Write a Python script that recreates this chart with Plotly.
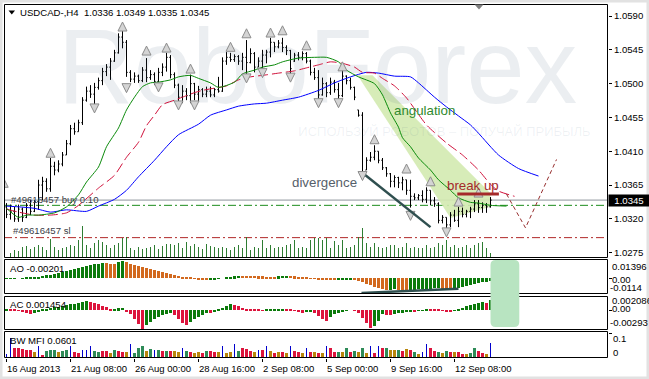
import plotly.graph_objects as go

FONT = "Liberation Sans, Arial, sans-serif"
W, H = 649, 379
ML, MR, MT, MB = 4, 41, 4, 21
PW, PH = W - ML - MR, H - MT - MB


def fx(px):
    return (px - ML) / PW


def fy(py):
    return (H - MB - py) / PH


# ---------------- data ----------------
header_text = "USDCAD-,H4\u00a0\u00a01.0336 1.0349 1.0335 1.0345"

open_ = [1.0336, 1.0326, 1.0330, 1.0320, 1.0333, 1.0322, 1.0338, 1.0330, 1.0343, 1.0365,
         1.0370, 1.0360, 1.0390, 1.0385, 1.0393, 1.0405, 1.0420, 1.0440, 1.0436, 1.0448,
         1.0478, 1.0490, 1.0486, 1.0495, 1.0504, 1.0516, 1.0522, 1.0530, 1.0541, 1.0562,
         1.0555, 1.0515, 1.0506, 1.0510, 1.0504, 1.0518, 1.0508, 1.0512, 1.0503, 1.0515,
         1.0522, 1.0535, 1.0512, 1.0498, 1.0482, 1.0490, 1.0484, 1.0500, 1.0486, 1.0492,
         1.0486, 1.0490, 1.0485, 1.0492, 1.0490, 1.0530, 1.0535, 1.0532, 1.0536, 1.0530,
         1.0535, 1.0528, 1.0540, 1.0522, 1.0530, 1.0538, 1.0542, 1.0555, 1.0549, 1.0554,
         1.0548, 1.0544, 1.0530, 1.0538, 1.0535, 1.0540, 1.0530, 1.0515, 1.0508, 1.0485,
         1.0500, 1.0488, 1.0502, 1.0492, 1.0484, 1.0510, 1.0504, 1.0495, 1.0465, 1.0458,
         1.0385, 1.0398, 1.0402, 1.0410, 1.0398, 1.0388, 1.0380, 1.0370, 1.0375, 1.0368,
         1.0372, 1.0358, 1.0350, 1.0348, 1.0351, 1.0346, 1.0358, 1.0344, 1.0340, 1.0318,
         1.0322, 1.0312, 1.0325, 1.0318, 1.0330, 1.0326, 1.0330, 1.0333, 1.0340, 1.0335,
         1.0338, 1.0336]
high = [1.0341, 1.0339, 1.0336, 1.0339, 1.0335, 1.0341, 1.0345, 1.0345, 1.0372, 1.0376,
        1.0374, 1.0401, 1.0396, 1.0398, 1.0409, 1.0425, 1.0445, 1.0448, 1.0452, 1.0482,
        1.0496, 1.0498, 1.0501, 1.0508, 1.0521, 1.0526, 1.0534, 1.0545, 1.0567, 1.0570,
        1.0558, 1.0518, 1.0515, 1.0512, 1.0522, 1.0534, 1.0518, 1.0515, 1.0521, 1.0527,
        1.0541, 1.0538, 1.0515, 1.0500, 1.0498, 1.0494, 1.0512, 1.0501, 1.0497, 1.0494,
        1.0496, 1.0496, 1.0494, 1.0509, 1.0535, 1.0542, 1.0541, 1.0539, 1.0538, 1.0541,
        1.0558, 1.0547, 1.0542, 1.0535, 1.0545, 1.0545, 1.0561, 1.0555, 1.0558, 1.0561,
        1.0551, 1.0545, 1.0541, 1.0542, 1.0543, 1.0542, 1.0532, 1.0521, 1.0518, 1.0508,
        1.0502, 1.0508, 1.0505, 1.0501, 1.0518, 1.0511, 1.0508, 1.0496, 1.0465, 1.0462,
        1.0402, 1.0409, 1.0418, 1.0410, 1.0401, 1.0389, 1.0381, 1.0378, 1.0376, 1.0376,
        1.0372, 1.0372, 1.0354, 1.0353, 1.0358, 1.0362, 1.0358, 1.0349, 1.0342, 1.0325,
        1.0322, 1.0329, 1.0332, 1.0336, 1.0335, 1.0332, 1.0336, 1.0345, 1.0345, 1.0342,
        1.0341, 1.0349]
low = [1.0321, 1.0319, 1.0316, 1.0316, 1.0316, 1.0321, 1.0325, 1.0329, 1.0332, 1.0345,
       1.0356, 1.0356, 1.0378, 1.0382, 1.0390, 1.0405, 1.0418, 1.0432, 1.0436, 1.0445,
       1.0476, 1.0481, 1.0472, 1.0492, 1.0498, 1.0510, 1.0505, 1.0529, 1.0540, 1.0547,
       1.0509, 1.0502, 1.0501, 1.0501, 1.0502, 1.0502, 1.0505, 1.0498, 1.0502, 1.0510,
       1.0516, 1.0507, 1.0494, 1.0476, 1.0474, 1.0478, 1.0474, 1.0478, 1.0476, 1.0482,
       1.0482, 1.0482, 1.0482, 1.0488, 1.0489, 1.0525, 1.0529, 1.0529, 1.0525, 1.0518,
       1.0509, 1.0527, 1.0515, 1.0522, 1.0521, 1.0527, 1.0535, 1.0542, 1.0547, 1.0542,
       1.0538, 1.0511, 1.0529, 1.0531, 1.0531, 1.0527, 1.0511, 1.0505, 1.0478, 1.0484,
       1.0482, 1.0485, 1.0488, 1.0478, 1.0482, 1.0499, 1.0492, 1.0478, 1.0456, 1.0376,
       1.0385, 1.0396, 1.0398, 1.0394, 1.0385, 1.0376, 1.0362, 1.0362, 1.0361, 1.0358,
       1.0352, 1.0335, 1.0345, 1.0345, 1.0342, 1.0341, 1.0338, 1.0336, 1.0314, 1.0314,
       1.0305, 1.0309, 1.0316, 1.0309, 1.0322, 1.0322, 1.0321, 1.0329, 1.0328, 1.0328,
       1.0328, 1.0335]
close = [1.0326, 1.0330, 1.0320, 1.0333, 1.0322, 1.0338, 1.0330, 1.0343, 1.0365, 1.0370,
         1.0360, 1.0390, 1.0385, 1.0393, 1.0405, 1.0420, 1.0440, 1.0436, 1.0448, 1.0478,
         1.0490, 1.0486, 1.0495, 1.0504, 1.0516, 1.0522, 1.0530, 1.0541, 1.0562, 1.0555,
         1.0515, 1.0506, 1.0510, 1.0504, 1.0518, 1.0508, 1.0512, 1.0503, 1.0515, 1.0522,
         1.0535, 1.0512, 1.0498, 1.0482, 1.0490, 1.0484, 1.0500, 1.0486, 1.0492, 1.0486,
         1.0490, 1.0485, 1.0492, 1.0490, 1.0530, 1.0535, 1.0532, 1.0536, 1.0530, 1.0535,
         1.0528, 1.0540, 1.0522, 1.0530, 1.0538, 1.0542, 1.0555, 1.0549, 1.0554, 1.0548,
         1.0544, 1.0520, 1.0538, 1.0535, 1.0540, 1.0530, 1.0515, 1.0508, 1.0485, 1.0500,
         1.0488, 1.0502, 1.0492, 1.0484, 1.0510, 1.0504, 1.0495, 1.0482, 1.0458, 1.0380,
         1.0398, 1.0402, 1.0410, 1.0398, 1.0388, 1.0380, 1.0370, 1.0375, 1.0368, 1.0372,
         1.0358, 1.0350, 1.0348, 1.0351, 1.0346, 1.0358, 1.0344, 1.0340, 1.0318, 1.0322,
         1.0312, 1.0325, 1.0318, 1.0330, 1.0326, 1.0330, 1.0333, 1.0340, 1.0335, 1.0338,
         1.0336, 1.0345]
volume = [300, 1500, 2400, 2100, 3300, 3600, 2700, 3300, 3900, 3300,
          2400, 5700, 3300, 2400, 3000, 3300, 3900, 3600, 5400, 9600,
          3900, 3000, 4500, 5400, 4800, 3900, 3000, 3900, 4500, 6000,
          6300, 3000, 2400, 3300, 2700, 3000, 3300, 3900, 2700, 3600,
          4200, 4200, 3900, 4500, 3000, 4800, 3600, 4200, 3300, 2700,
          4200, 3600, 3300, 3000, 3300, 3000, 2400, 3300, 3900, 3000,
          6300, 2400, 3300, 3000, 5400, 3000, 3900, 3000, 3300, 3300,
          3900, 4200, 5400, 3000, 3300, 3000, 5400, 6000, 6000, 5400,
          6000, 3000, 5100, 3900, 5400, 3000, 3300, 3900, 6300, 9000,
          4500, 3300, 4500, 3300, 3000, 3300, 3900, 3900, 3000, 3300,
          4500, 3000, 3300, 3000, 3000, 3900, 3000, 3300, 4500, 3900,
          5400, 3300, 3900, 3000, 3300, 3900, 3000, 3900, 4500, 4800,
          3000, 1500]

tick_bars = [0, 16, 32, 48, 64, 80, 96, 112]
tick_labels = ["16 Aug 2013", "21 Aug 08:00", "26 Aug 00:00", "28 Aug 16:00",
               "2 Sep 08:00", "5 Sep 00:00", "9 Sep 16:00", "12 Sep 08:00"]
price_ticks = [1.0590, 1.0545, 1.0500, 1.0455, 1.0410, 1.0365, 1.0320, 1.0275]

# Alligator lines (bar index, price), shifted forward past the last bar
lips_x = [0, 3, 5, 8, 12, 15, 18, 20, 23, 25, 28, 30, 32, 34, 36, 38, 41, 43, 46, 48, 51, 53, 57, 59, 62,
          64, 67, 69, 73, 77, 80, 83, 85, 88, 92, 94, 96, 98, 99, 101, 103, 106, 108, 111, 113, 116, 118, 121, 125]
lips_y = [1.0334, 1.0322, 1.0325, 1.0325, 1.0328, 1.0336, 1.0352, 1.0369, 1.0389, 1.0416, 1.0441, 1.0465,
          1.0482, 1.0496, 1.0501, 1.0502, 1.0505, 1.0509, 1.0511, 1.0507, 1.0501, 1.0495, 1.0502, 1.0513,
          1.0518, 1.0522, 1.0525, 1.0529, 1.0534, 1.0535, 1.0535, 1.0529, 1.0518, 1.0509, 1.0500, 1.0485,
          1.0461, 1.0442, 1.0428, 1.0416, 1.0401, 1.0385, 1.0372, 1.0358, 1.0348, 1.0342, 1.0341, 1.0338, 1.0337]
teeth_x = [0, 3, 7, 11, 15, 18, 23, 27, 30, 33, 35, 37, 39, 42, 44, 47, 49, 52, 55, 58, 61, 64, 68, 72,
           75, 78, 81, 84, 87, 89, 92, 94, 97, 100, 105, 110, 114, 118, 121, 123, 127]
teeth_y = [1.0333, 1.0329, 1.0325, 1.0325, 1.0328, 1.0338, 1.0361, 1.0378, 1.0402, 1.0422, 1.0444, 1.0458,
           1.0472, 1.0478, 1.0482, 1.0488, 1.0491, 1.0494, 1.0497, 1.0505, 1.0509, 1.0511, 1.0514, 1.0517,
           1.0521, 1.0525, 1.0529, 1.0527, 1.0522, 1.0515, 1.0514, 1.0507, 1.0497, 1.0481, 1.0445, 1.0421,
           1.0405, 1.0385, 1.0366, 1.0357, 1.0350]
jaw_x = [0, 3, 7, 11, 15, 20, 23, 27, 30, 33, 37, 40, 43, 48, 51, 55, 58, 62, 65, 69, 73, 78, 82, 86,
         90, 93, 97, 101, 103, 107, 110, 113, 116, 118, 123, 128, 133]
jaw_y = [1.0337, 1.0336, 1.0334, 1.0329, 1.0332, 1.0330, 1.0337, 1.0346, 1.0358, 1.0376, 1.0398, 1.0416,
         1.0432, 1.0446, 1.0458, 1.0465, 1.0470, 1.0473, 1.0474, 1.0478, 1.0482, 1.0491, 1.0501, 1.0509,
         1.0515, 1.0514, 1.0510, 1.0509, 1.0501, 1.0482, 1.0469, 1.0457, 1.0445, 1.0434, 1.0405, 1.0387, 1.0377]

frac_up_x = [-0.7, 11, 29, 35, 40, 46, 56, 60, 66, 69, 75, 84, 92, 100, 106, 113, 118]
frac_up_y = [1.0374, 1.0414, 1.0582, 1.0550, 1.0554, 1.0526, 1.0555, 1.0573, 1.0574, 1.0577, 1.0557,
             1.0529, 1.0432, 1.0393, 1.0376, 1.0349, 1.0361]
frac_dn_x = [22, 30, 38, 43, 47, 60, 64, 71, 78, 83, 89, 101, 110]
frac_dn_y = [1.0461, 1.0488, 1.0489, 1.0465, 1.0465, 1.0501, 1.0508, 1.0502, 1.0468, 1.0468, 1.0371,
             1.0318, 1.0296]

ao = [-0.00022, -0.00015, 0.00007, 0.00000, 0.00015, 0.00036, 0.00058, 0.00087, 0.00123, 0.00167,
      0.00218, 0.00268, 0.00312, 0.00363, 0.00435, 0.00508, 0.00580, 0.00653, 0.00725, 0.00834,
      0.00906, 0.00964, 0.01015, 0.01051, 0.01088, 0.01073, 0.01066, 0.01051, 0.01160, 0.01233,
      0.01146, 0.01051, 0.00979, 0.00906, 0.00834, 0.00761, 0.00674, 0.00580, 0.00508, 0.00435,
      0.00363, 0.00290, 0.00232, 0.00181, 0.00123, 0.00073, 0.00022, -0.00022, -0.00058, -0.00087,
      -0.00109, -0.00102, -0.00073, -0.00036, 0.00000, 0.00044, 0.00087, 0.00131, 0.00174, 0.00167,
      0.00160, 0.00152, 0.00145, 0.00138, 0.00131, 0.00123, 0.00116, 0.00109, 0.00131, 0.00160,
      0.00181, 0.00160, 0.00131, 0.00102, 0.00073, 0.00044, 0.00015, -0.00022, -0.00058, -0.00094,
      -0.00123, -0.00145, -0.00160, -0.00131, -0.00109, -0.00087, -0.00073, -0.00080, -0.00181, -0.00290,
      -0.00399, -0.00508, -0.00616, -0.00725, -0.00798, -0.00856, -0.00834, -0.00812, -0.00827, -0.00848,
      -0.00870, -0.00841, -0.00819, -0.00798, -0.00783, -0.00769, -0.00754, -0.00740, -0.00725, -0.00747,
      -0.00769, -0.00783, -0.00740, -0.00689, -0.00638, -0.00580, -0.00508, -0.00435, -0.00363, -0.00290,
      -0.00239, -0.00201]
ac = [0.000103, 0.000074, 0.000044, -0.000103, -0.000251, -0.000443, -0.000590, -0.000369, -0.000148, 0.000074,
      0.000221, 0.000369, 0.000443, 0.000516, 0.000634, 0.000738, 0.000841, 0.000929, 0.001033, 0.001180,
      0.001328, 0.001254, 0.001107, 0.000885, 0.000664, 0.000443, 0.000221, 0.000236, 0.000266, 0.000295,
      -0.000148, -0.000590, -0.001328, -0.002066, -0.002803, -0.002213, -0.001771, -0.001328, -0.000959, -0.000664,
      -0.000516, -0.000443, -0.000664, -0.001328, -0.001918, -0.002213, -0.001771, -0.001328, -0.000959, -0.000664,
      -0.000369, -0.000443, -0.000221, 0.000074, 0.000369, 0.000664, 0.000885, 0.000811, 0.000590, 0.000369,
      0.000192, 0.000074, 0.000044, 0.000030, 0.000015, 0.000074, 0.000118, 0.000177, 0.000221, 0.000236,
      0.000192, 0.000030, -0.000118, -0.000221, -0.000369, -0.000266, -0.000221, -0.000443, -0.000885, -0.001328,
      -0.001623, -0.001033, -0.000590, -0.000369, -0.000148, -0.000074, 0.000000, -0.000044, -0.000443, -0.001180,
      -0.001918, -0.002656, -0.002316, -0.001623, -0.000590, -0.000664, -0.000738, -0.000590, -0.000472, -0.000369,
      -0.000266, -0.000177, -0.000221, -0.000118, -0.000030, 0.000221, 0.000177, 0.000148, 0.000103, -0.000044,
      -0.000148, -0.000192, -0.000074, 0.000148, 0.000369, 0.000590, 0.000738, 0.000885, 0.001033, 0.001180,
      0.001033, 0.001454]
mfi = [0.0163, 0.0816, 0.0408, 0.0408, 0.0367, 0.0327, 0.0327, 0.0245, 0.0490, 0.0122,
       0.0286, 0.0327, 0.0327, 0.0245, 0.0286, 0.0327, 0.0490, 0.0245, 0.0204, 0.0327,
       0.0327, 0.0490, 0.0286, 0.0245, 0.0286, 0.0286, 0.0204, 0.0327, 0.0286, 0.0245,
       0.0245, 0.0571, 0.0204, 0.0408, 0.0490, 0.0286, 0.0367, 0.0327, 0.0327, 0.0286,
       0.0286, 0.0286, 0.0286, 0.0245, 0.0408, 0.0286, 0.0245, 0.0204, 0.0245, 0.0204,
       0.0286, 0.0286, 0.0245, 0.0245, 0.0490, 0.0204, 0.0245, 0.0571, 0.0286, 0.0408,
       0.0367, 0.0286, 0.0245, 0.0327, 0.0327, 0.0490, 0.0286, 0.0204, 0.0245, 0.0245,
       0.0204, 0.0490, 0.0286, 0.0245, 0.0204, 0.0408, 0.0245, 0.0245, 0.0204, 0.0204,
       0.0490, 0.0408, 0.0245, 0.0245, 0.0245, 0.0408, 0.0245, 0.0286, 0.0245, 0.0408,
       0.0204, 0.0490, 0.0204, 0.0490, 0.0408, 0.0408, 0.0327, 0.0327, 0.0327, 0.0286,
       0.0367, 0.0327, 0.0245, 0.0163, 0.0245, 0.0571, 0.0408, 0.0286, 0.0245, 0.0204,
       0.0286, 0.0245, 0.0245, 0.0245, 0.0163, 0.0163, 0.0204, 0.0408, 0.0286, 0.0204,
       0.0163, 0.0601]
# G = green (MFI up, vol up), F = fade, K = fake, S = squat
mfi_kind = list("KKSSSSSFKS" "GGGFGGKSSK" "KKGGSSFGSS" "FKGGGFGKGS" "GSFFKGSFFS"
                "GSSFKFFKGS" "SSFKSKFSFS" "FKSSFKSFSF" "KSSGFGSGFG" "FKSKSGFFGS"
                "FSGFKKSSGF" "GSFSSFGGSS" "FK")

bid_price = 1.0345
order_price = 1.0338
sl_price = 1.0295
angulation_x = [87.75, 91.5, 121.0, 121.0, 111.0]
angulation_y = [1.0511, 1.0511, 1.0354, 1.0336, 1.0321]
div_price_x = [89.75, 106.0]
div_price_y = [1.0378, 1.0309]
breakup_x = [112.7, 123.1]
breakup_y = 1.0353
forecast_x = [125.0, 129.75, 137.5]
forecast_y = [1.0353, 1.0308, 1.0399]
div_ao_x = [88.75, 113.0]
div_ao_y = [-0.01065, -0.00754]

# ---------------- figure ----------------
n = len(close)
bars = list(range(n))

ao_col = ['#0b7a0b' if i == 0 or ao[i] > ao[i - 1] else '#d2691e' for i in range(n)]
ac_col = ['#0b7a0b' if i == 0 or ac[i] > ac[i - 1] else '#dc143c' for i in range(n)]
MFI_COLORS = {'G': '#2e8b57', 'F': '#b8860b', 'K': '#0000cd', 'S': '#dc143c'}
mfi_col = [MFI_COLORS[k] for k in mfi_kind]
mfi_w = [0.25 if k == 'K' else 0.75 for k in mfi_kind]

fig = go.Figure()

fig.add_trace(go.Scatter(x=[77.75], y=[1.05095], mode='text', text=['RoboForex'],
                         textfont=dict(family=FONT, size=105, color='rgba(70,100,130,0.11)'),
                         hoverinfo='skip', showlegend=False))
fig.add_trace(go.Scatter(x=[109.5], y=[1.04343], mode='text',
                         text=['ИСПОЛЬЗУЙ РОБОТОВ – ПОЛУЧАЙ ПРИБЫЛЬ'],
                         textfont=dict(family=FONT, size=13, color='rgba(70,100,130,0.09)'),
                         hoverinfo='skip', showlegend=False))

fig.add_trace(go.Scatter(x=jaw_x, y=jaw_y, mode='lines', line=dict(color='#0000ff', width=1, shape='spline', smoothing=0.6),
                         hoverinfo='skip', showlegend=False))
fig.add_trace(go.Scatter(x=teeth_x, y=teeth_y, mode='lines',
                         line=dict(color='#d0103a', width=1, shape='spline', smoothing=0.6, dash='10px,4px'),
                         hoverinfo='skip', showlegend=False))
fig.add_trace(go.Scatter(x=lips_x, y=lips_y, mode='lines', line=dict(color='#0a8a0a', width=1, shape='spline', smoothing=0.6),
                         hoverinfo='skip', showlegend=False))

fig.add_trace(go.Ohlc(x=bars, open=open_, high=high, low=low, close=close, tickwidth=0.3,
                      increasing=dict(line=dict(color='black', width=1)),
                      decreasing=dict(line=dict(color='black', width=1)),
                      hoverinfo='skip', showlegend=False))

fig.add_trace(go.Scatter(x=frac_up_x, y=frac_up_y, mode='markers',
                         marker=dict(symbol='arrow-up', size=9, color='#d4d4d4', line=dict(color='#8c8c8c', width=1)),
                         hoverinfo='skip', showlegend=False))
fig.add_trace(go.Scatter(x=frac_dn_x, y=frac_dn_y, mode='markers',
                         marker=dict(symbol='arrow-down', size=9, color='#d4d4d4', line=dict(color='#8c8c8c', width=1)),
                         hoverinfo='skip', showlegend=False))

fig.add_trace(go.Scatter(x=forecast_x, y=forecast_y, mode='lines',
                         line=dict(color='#962d2d', width=1, dash='4px,3px'),
                         hoverinfo='skip', showlegend=False))

fig.add_trace(go.Bar(x=bars, y=volume, width=0.25, marker=dict(color='#2e7d32', line=dict(width=0)),
                     xaxis='x', yaxis='y5', hoverinfo='skip', showlegend=False))

fig.add_trace(go.Bar(x=bars, y=ao, width=0.75, marker=dict(color=ao_col, line=dict(width=0)),
                     xaxis='x', yaxis='y2', hoverinfo='skip', showlegend=False))
fig.add_trace(go.Scatter(x=div_ao_x, y=div_ao_y, mode='lines', line=dict(color='#2f4f4f', width=2.5),
                         xaxis='x', yaxis='y2', hoverinfo='skip', showlegend=False))
fig.add_trace(go.Bar(x=bars, y=ac, width=0.75, marker=dict(color=ac_col, line=dict(width=0)),
                     xaxis='x', yaxis='y3', hoverinfo='skip', showlegend=False))
fig.add_trace(go.Bar(x=bars, y=mfi, width=mfi_w, marker=dict(color=mfi_col, line=dict(width=0)),
                     xaxis='x', yaxis='y4', hoverinfo='skip', showlegend=False))

# ---------------- shapes ----------------
shapes = []
ang_path = 'M ' + ' L '.join(f'{x},{y}' for x, y in zip(angulation_x, angulation_y)) + ' Z'
shapes.append(dict(type='path', path=ang_path, xref='x', yref='y', fillcolor='#d3eab0',
                   line=dict(width=0), layer='below', opacity=0.9))
shapes.append(dict(type='line', xref='paper', yref='y', x0=0, x1=1, y0=bid_price, y1=bid_price,
                   line=dict(color='#8c939b', width=1), layer='below'))
shapes.append(dict(type='line', xref='paper', yref='y', x0=0, x1=1, y0=order_price, y1=order_price,
                   line=dict(color='#1c8c1c', width=1, dash='8px,3px,2px,3px'), layer='below'))
shapes.append(dict(type='line', xref='paper', yref='y', x0=0, x1=1, y0=sl_price, y1=sl_price,
                   line=dict(color='#b02828', width=1, dash='8px,3px,2px,3px'), layer='below'))
shapes.append(dict(type='line', xref='x', yref='y', x0=div_price_x[0], x1=div_price_x[1],
                   y0=div_price_y[0], y1=div_price_y[1], line=dict(color='#2f4f4f', width=2.5)))
shapes.append(dict(type='line', xref='x', yref='y', x0=breakup_x[0], x1=breakup_x[1],
                   y0=breakup_y, y1=breakup_y, line=dict(color='#a52a2a', width=3)))

# pane borders (placed on half pixels so they stay crisp)
for top, bot in [(4.5, 257.5), (259.5, 293.5), (296.5, 329.5), (331.5, 357.5)]:
    shapes.append(dict(type='rect', xref='paper', yref='paper', x0=fx(4.5), x1=fx(607.5), y0=fy(bot), y1=fy(top),
                       line=dict(color='black', width=1), fillcolor='rgba(0,0,0,0)'))

# green rounded box over oscillators
x0, x1 = 121.0, 128.2
y0, y1 = fy(327), fy(260)
rx, ry = 1.3, 5 / PH
rpath = (f'M {x0 + rx},{y1} L {x1 - rx},{y1} Q {x1},{y1} {x1},{y1 - ry} L {x1},{y0 + ry} '
         f'Q {x1},{y0} {x1 - rx},{y0} L {x0 + rx},{y0} Q {x0},{y0} {x0},{y0 + ry} '
         f'L {x0},{y1 - ry} Q {x0},{y1} {x0 + rx},{y1} Z')
shapes.append(dict(type='path', path=rpath, xref='x', yref='paper', fillcolor='#b8e4c1', line=dict(width=0)))

# chart-shift marker and header triangle
shapes.append(dict(type='path', xref='paper', yref='paper', fillcolor='#808080', line=dict(width=0),
                   path=f'M {fx(474.5)},{fy(4.5)} L {fx(483.5)},{fy(4.5)} L {fx(479)},{fy(9.5)} Z'))
shapes.append(dict(type='path', xref='paper', yref='paper', fillcolor='black', line=dict(width=0),
                   path=f'M {fx(8.5)},{fy(10.5)} L {fx(15)},{fy(10.5)} L {fx(11.75)},{fy(14.5)} Z'))

# outer grey frame
for (ax0, ax1, ay0, ay1) in [(0, 2.5, 0, 379), (646.5, 649, 0, 379), (0, 649, 0, 2.5), (0, 649, 376.5, 379)]:
    shapes.append(dict(type='rect', xref='paper', yref='paper', x0=fx(ax0), x1=fx(ax1),
                       y0=fy(ay1), y1=fy(ay0), fillcolor='#e2e2e2', line=dict(width=0)))

# ---------------- annotations ----------------
anns = []


def pann(text, x, y, size=9.6, color='black', xanchor='left', **kw):
    anns.append(dict(text=text, x=fx(x), y=fy(y), xref='paper', yref='paper', showarrow=False,
                     xanchor=xanchor, yanchor='middle', font=dict(family=FONT, size=size, color=color),
                     borderpad=0, **kw))


pann(header_text, 19, 12.7)
pann('AO -0.00201', 9, 268.3)
pann('AC 0.001454', 9, 304.5)
pann('BW MFI 0.0601', 8.5, 340)
pann('0.01396', 610.5, 266)
pann('0.00', 610.5, 279.5)
pann('-0.0114', 609, 287.5)
pann('0.002086', 610.5, 300.5)
pann('0.00', 610.5, 308)
pann('-0.00293', 609, 322.5)
pann('0.1', 612, 338.3)
pann('0', 612, 352.3)
pann('#49616457 buy 0.10', 9.5, 199.3, color='#3c4046')
pann('#49616457 sl', 11.5, 231, color='#3c4046')

for b, lab in zip(tick_bars, tick_labels):
    anns.append(dict(text=lab, x=b, y=fy(368.3), xref='x', yref='paper', showarrow=False,
                     xanchor='left', yanchor='middle', xshift=-1, borderpad=0,
                     font=dict(family=FONT, size=9.5, color='black')))

anns.append(dict(text='angulation', x=104.6, y=1.0464, xref='x', yref='y', showarrow=False,
                 font=dict(family=FONT, size=13.3, color='#2f8a2f')))
anns.append(dict(text='divergence', x=79.6, y=1.0368, xref='x', yref='y', showarrow=False,
                 font=dict(family=FONT, size=13.3, color='#56606a')))
anns.append(dict(text='break up', x=116.5, y=1.0365, xref='x', yref='y', showarrow=False,
                 font=dict(family=FONT, size=13.3, color='#a52a2a')))

anns.append(dict(text=f'{close[-1]:.4f}', x=1, y=close[-1], xref='paper', yref='y', showarrow=False,
                 xanchor='left', yanchor='middle', bgcolor='black', width=38, height=9, borderpad=1,
                 font=dict(family=FONT, size=9.6, color='white')))

fig.update_layout(
    width=W, height=H, margin=dict(l=ML, r=MR, t=MT, b=MB, pad=0),
    paper_bgcolor='white', plot_bgcolor='white', showlegend=False, hovermode=False,
    barmode='overlay', bargap=0,
    xaxis=dict(domain=[0, 1], range=[-0.625, 150.375], anchor='y4', tickvals=tick_bars, ticks='outside',
               ticklen=3, tickcolor='black', showticklabels=False, showgrid=False, zeroline=False,
               showline=False, rangeslider=dict(visible=False), fixedrange=True),
    yaxis=dict(domain=[fy(258), 1], range=[1.02679, 1.06060], side='right', anchor='x',
               tickvals=price_ticks, ticktext=[f'{v:.4f}' for v in price_ticks], ticks='outside',
               ticklen=3, tickcolor='black', tickfont=dict(family=FONT, size=9.6, color='black'),
               showgrid=False, zeroline=False, showline=False, fixedrange=True),
    yaxis2=dict(domain=[fy(294), fy(259)], range=[-0.0114, 0.01396], side='right', anchor='x',
                tickvals=[0], ticks='outside', ticklen=3, tickcolor='black', showticklabels=False,
                showgrid=False, zeroline=False, showline=False, fixedrange=True),
    yaxis3=dict(domain=[fy(330), fy(296)], range=[-0.00293, 0.002086], side='right', anchor='x',
                tickvals=[0], ticks='outside', ticklen=3, tickcolor='black', showticklabels=False,
                showgrid=False, zeroline=False, showline=False, fixedrange=True),
    yaxis4=dict(domain=[0, fy(331)], range=[0, 0.1102], side='right', anchor='x',
                tickvals=[0.1], ticks='outside', ticklen=3, tickcolor='black', showticklabels=False,
                showgrid=False, zeroline=False, showline=False, fixedrange=True),
    yaxis5=dict(overlaying='y', range=[0, 76200], visible=False, fixedrange=True),
    shapes=shapes, annotations=anns,
)

fig.write_html("out.html", config={'displayModeBar': False},
               post_script="document.body.style.margin='0';document.body.style.padding='0';")
